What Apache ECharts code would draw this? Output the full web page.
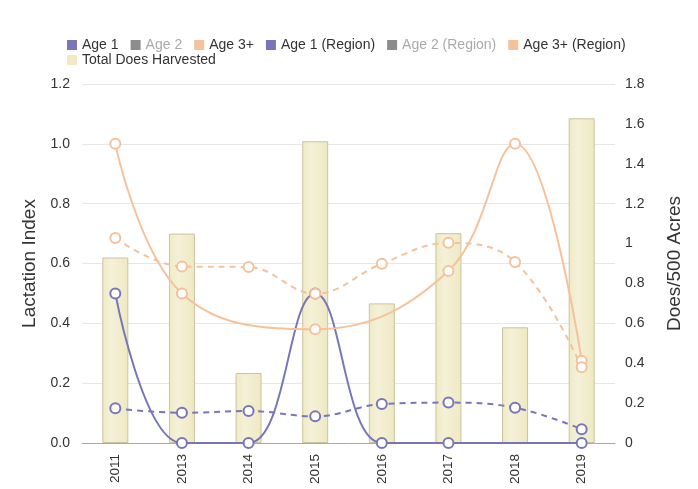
<!DOCTYPE html>
<html>
<head>
<meta charset="utf-8">
<script src="https://cdn.jsdelivr.net/npm/echarts@6/dist/echarts.min.js"></script>
<style>
  html, body { margin: 0; padding: 0; background: #fff; }
  #chart { width: 698px; height: 489px; }
</style>
</head>
<body>
<div id="chart"></div>
<script>
const years = ['2011', '2013', '2014', '2015', '2016', '2017', '2018', '2019']
// lactation index, left axis
const age1 = [0.5, 0, 0, 0.5, 0, 0, null, 0]
const age2 = [null, null, null, null, null, null, null, null]
const age3 = [1.0, 0.5, null, 0.38, null, 0.575, 1.0, 0.275]
const age1Region = [0.116, 0.101, 0.107, 0.089, 0.13, 0.135, 0.118, 0.046]
const age2Region = [null, null, null, null, null, null, null, null]
const age3Region = [0.685, 0.59, 0.588, 0.499, 0.599, 0.669, 0.605, 0.253]
// does per 500 acres, right axis
const totalDoes = [0.93, 1.05, 0.351, 1.513, 0.70, 1.052, 0.58, 1.628]

const blue = '#7676b8'
const orange = '#f5c29b'
const grey = '#8d8d8d'
const barFill = '#f0ebc6'
const font = "'Liberation Sans', Arial, sans-serif"

const lineSeries = (name, data, color, dashed) => ({
  name: name,
  type: 'line',
  data: data,
  yAxisIndex: 0,
  smooth: 0.4,
  connectNulls: true,
  symbol: 'circle',
  symbolSize: 10,
  showAllSymbol: true,
  z: 3,
  itemStyle: { color: '#fff', borderColor: color, borderWidth: 2 },
  lineStyle: { color: color, width: 2, type: dashed ? [6, 5] : 'solid' }
})

const legendBase = {
  itemWidth: 10,
  itemHeight: 10,
  itemGap: 12,
  icon: 'rect',
  selectedMode: false,
  textStyle: { fontSize: 14, color: '#333', fontFamily: font }
}

const legendItem = (name, color, faded) => ({
  name: name,
  itemStyle: { color: color, borderWidth: 0 },
  textStyle: { color: faded ? '#aaa' : '#333' }
})

const chart = echarts.init(document.getElementById('chart'))
const options = {
  animation: false,
  textStyle: { fontFamily: font },
  legend: [
    Object.assign({}, legendBase, {
      left: 62,
      top: 33,
      data: [
        legendItem('Age 1', blue),
        legendItem('Age 2', grey, true),
        legendItem('Age 3+', orange),
        legendItem('Age 1 (Region)', blue),
        legendItem('Age 2 (Region)', grey, true),
        legendItem('Age 3+ (Region)', orange)
      ]
    }),
    Object.assign({}, legendBase, {
      left: 62,
      top: 48,
      data: [legendItem('Total Does Harvested', barFill)]
    })
  ],
  grid: { left: 82, right: 83, top: 84, bottom: 46 },
  xAxis: {
    type: 'category',
    data: years,
    axisLine: { lineStyle: { color: '#aaa' } },
    axisTick: { length: 6, lineStyle: { color: '#aaa' } },
    axisLabel: { rotate: 90, fontSize: 13.5, color: '#333', margin: 11 }
  },
  yAxis: [
    {
      type: 'value',
      min: 0,
      max: 1.2,
      interval: 0.2,
      name: 'Lactation Index',
      nameLocation: 'middle',
      nameRotate: 90,
      nameGap: 43,
      nameTextStyle: { fontSize: 19, color: '#333' },
      axisLabel: { fontSize: 14, color: '#333', margin: 12, formatter: v => v.toFixed(1) },
      splitLine: { lineStyle: { color: '#e6e6e6' } }
    },
    {
      type: 'value',
      min: 0,
      max: 1.8,
      interval: 0.2,
      name: 'Does/500 Acres',
      nameLocation: 'middle',
      nameRotate: 90,
      nameGap: 50,
      nameTextStyle: { fontSize: 19, color: '#333' },
      axisLabel: { fontSize: 14, color: '#333', margin: 10, formatter: v => String(Math.round(v * 10) / 10) },
      splitLine: { show: false }
    }
  ],
  series: [
    lineSeries('Age 1', age1, blue, false),
    lineSeries('Age 2', age2, grey, false),
    lineSeries('Age 3+', age3, orange, false),
    lineSeries('Age 1 (Region)', age1Region, blue, true),
    lineSeries('Age 2 (Region)', age2Region, grey, true),
    lineSeries('Age 3+ (Region)', age3Region, orange, true),
    {
      name: 'Total Does Harvested',
      type: 'bar',
      yAxisIndex: 1,
      data: totalDoes,
      barWidth: 26,
      z: 1,
      itemStyle: {
        borderColor: '#c9c4a0',
        borderWidth: 1,
        color: new echarts.graphic.LinearGradient(0, 0, 1, 0, [
          { offset: 0, color: '#efeac4' },
          { offset: 0.35, color: '#f5f1d8' },
          { offset: 1, color: '#eee8c2' }
        ])
      }
    }
  ]
}
chart.setOption(options)
</script>
</body>
</html>
